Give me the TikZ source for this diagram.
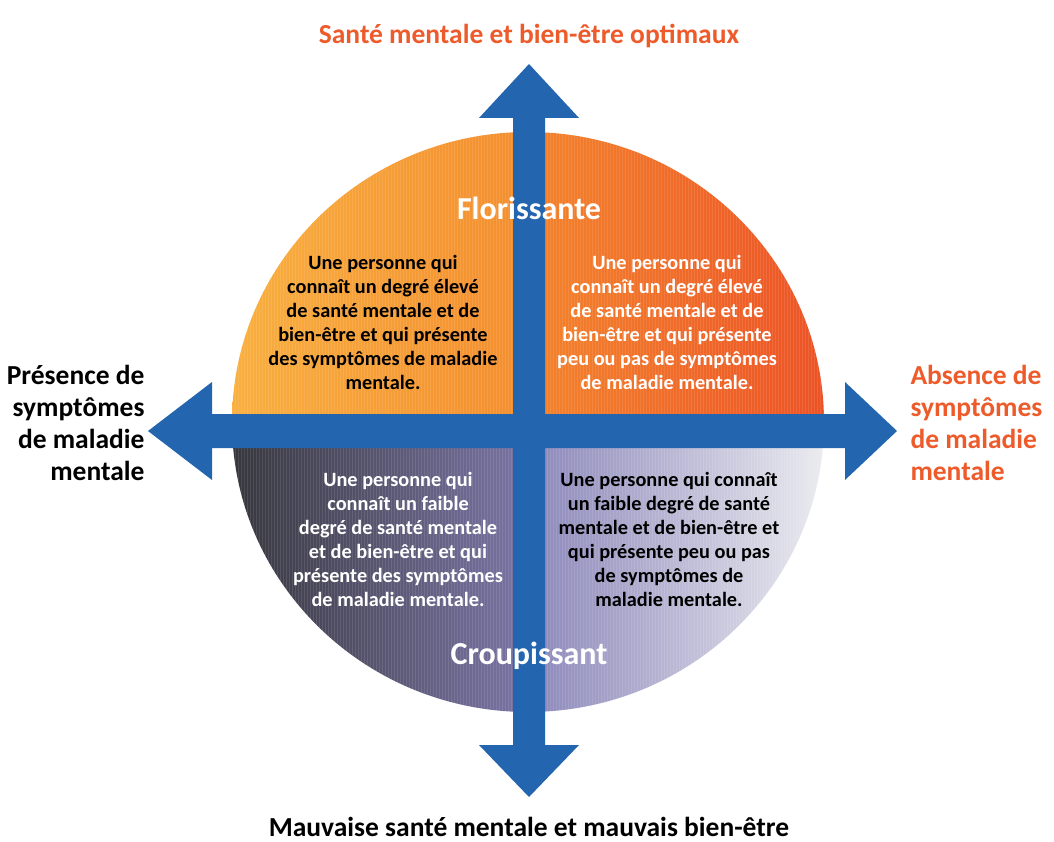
\documentclass[tikz,border=0pt]{standalone}
\usepackage{fontspec}
\setmainfont{Carlito}
\definecolor{arrowblue}{HTML}{2365AF}
\definecolor{titleorange}{HTML}{EE5B2B}
\definecolor{tlA}{HTML}{F9B040}
\definecolor{tlB}{HTML}{F38D2E}
\definecolor{trA}{HTML}{F3842C}
\definecolor{trB}{HTML}{EC5226}
\definecolor{blA}{HTML}{36363C}
\definecolor{blB}{HTML}{7B75A6}
\definecolor{brA}{HTML}{8B87BA}
\definecolor{brB}{HTML}{ECECF0}
\tikzset{
  quadtext/.style={align=center, font=\bfseries\fontsize{20.3}{24}\selectfont},
  sidelabel/.style={font=\bfseries\fontsize{27.5}{32}\selectfont},
  axislabel/.style={font=\bfseries\fontsize{27.5}{30}\selectfont},
  zonelabel/.style={font=\bfseries\fontsize{32}{36}\selectfont, text=white},
  axisarrow/.style={fill=arrowblue, draw=none}
}
\begin{document}
\begin{tikzpicture}[x=1pt,y=-1pt]
\useasboundingbox (0,0) rectangle (1054,842);
\fill[white] (0,0) rectangle (1054,842);
\coordinate (c) at (529,431);
% quadrants
\begin{scope}
  \clip (528,422) ellipse [x radius=296, y radius=290];
  \shade[left color=tlA, right color=tlB] (230,125) rectangle (529,431);
  \shade[left color=trA, right color=trB] (529,125) rectangle (828,431);
  \shade[left color=blA, right color=blB] (230,431) rectangle (529,716);
  \shade[left color=brA, right color=brB] (529,431) rectangle (828,716);
  \foreach \x in {232,235,...,826} \draw[white, opacity=0.10, line width=0.7] (\x,125) -- (\x,716);
\end{scope}
% arrows
\fill[axisarrow] (513,118) -- (479,118) -- (529,64) -- (579,118) -- (545,118)
  -- (545,745) -- (579,745) -- (529,797) -- (479,745) -- (513,745) -- cycle;
\fill[axisarrow] (212,414) -- (212,382) -- (148,431) -- (212,480) -- (212,448)
  -- (845,448) -- (845,480) -- (897,431) -- (845,382) -- (845,414) -- cycle;
% axis labels
\node[axislabel, text=titleorange] (top) at (529,36) {Santé mentale et bien-être optimaux};
\node[axislabel] (bottom) at (529,827) {Mauvaise santé mentale et mauvais bien-être};
\node[sidelabel, align=right, anchor=east] (left) at (148,423) {Présence de\\symptômes\\de maladie\\mentale};
\node[sidelabel, align=left, anchor=west, text=titleorange] (right) at (907,423) {Absence de\\symptômes\\de maladie\\mentale};
% zone labels
\node[zonelabel] (flor) at (529,208) {Florissante};
\node[zonelabel] (croup) at (529,656) {Croupissant};
% quadrant texts
\node[quadtext] (tl) at (383,322) {Une personne qui\\connaît un degré élevé\\de santé mentale et de\\bien-être et qui présente\\des symptômes de maladie\\mentale.};
\node[quadtext, text=white] (tr) at (667,322) {Une personne qui\\connaît un degré élevé\\de santé mentale et de\\bien-être et qui présente\\peu ou pas de symptômes\\de maladie mentale.};
\node[quadtext, text=white] (bl) at (398,539) {Une personne qui\\connaît un faible\\degré de santé mentale\\et de bien-être et qui\\présente des symptômes\\de maladie mentale.};
\node[quadtext] (br) at (669,539) {Une personne qui connaît\\un faible degré de santé\\mentale et de bien-être et\\qui présente peu ou pas\\de symptômes de\\maladie mentale.};
\end{tikzpicture}
\end{document}
